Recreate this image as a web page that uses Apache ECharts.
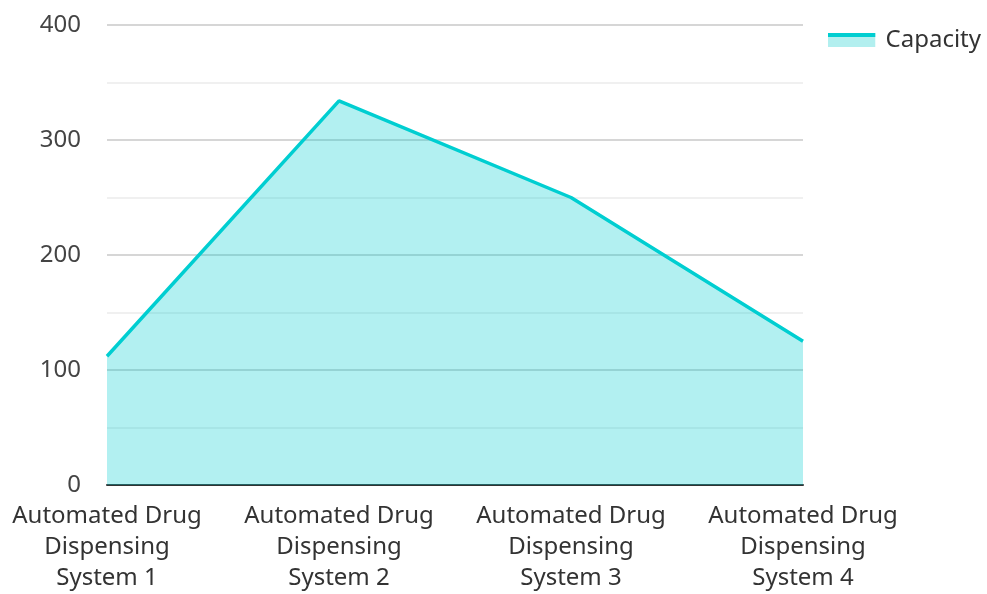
<!DOCTYPE html>
<html>
<head>
<meta charset="utf-8">
<script src="https://cdn.jsdelivr.net/npm/echarts@6/dist/echarts.min.js"></script>
<style>html,body{margin:0;padding:0;background:#fff}#c{width:987px;height:594px}</style>
</head>
<body>
<div id="c"></div>
<script>
const categories = ["Automated Drug\nDispensing\nSystem 1", "Automated Drug\nDispensing\nSystem 2", "Automated Drug\nDispensing\nSystem 3", "Automated Drug\nDispensing\nSystem 4"];
const capacity = [112, 334, 250, 125];
const seriesName = "Capacity";

const iconSvg = '<svg xmlns="http://www.w3.org/2000/svg" width="48" height="14"><rect x="0" y="0" width="48" height="14" fill="#b2efef"/><rect x="0" y="0" width="48" height="4" fill="#00ced1"/></svg>';
const iconUrl = 'image://data:image/svg+xml;charset=utf-8,' + encodeURIComponent(iconSvg);

const chart = echarts.init(document.getElementById('c'), null, {renderer: 'canvas'});
chart.setOption({
  animation: false,
  textStyle: {fontFamily: 'Noto Sans'},
  legend: {
    right: 1, top: 23,
    itemWidth: 48, itemHeight: 14, itemGap: 10,
    icon: iconUrl,
    textStyle: {fontSize: 24, color: '#333', fontFamily: 'Noto Sans', padding: [0, 0, 0, 5]},
    data: [{name: seriesName, icon: iconUrl}]
  },
  grid: {left: 107, right: 184, top: 25, bottom: 107, containLabel: false},
  xAxis: {
    type: 'category', data: categories, boundaryGap: false,
    axisLine: {show: true, lineStyle: {color: '#333', width: 2}},
    axisTick: {show: false},
    axisLabel: {fontSize: 24, color: '#333', lineHeight: 31, margin: 16, fontFamily: 'Noto Sans', interval: 0},
    splitLine: {show: false}
  },
  yAxis: {
    type: 'value', min: 0, max: 400, interval: 100,
    axisLine: {show: false}, axisTick: {show: false},
    axisLabel: {fontSize: 24, color: '#444', margin: 26, fontFamily: 'Noto Sans'},
    splitLine: {show: true, lineStyle: {color: '#c8c8c8', width: 1.5}},
    minorTick: {show: false, splitNumber: 2},
    minorSplitLine: {show: true, lineStyle: {color: '#ebebeb', width: 1.5}}
  },
  series: [{
    name: seriesName, type: 'line', data: capacity,
    symbol: 'none', showSymbol: false,
    lineStyle: {color: '#00ced1', width: 3.5},
    itemStyle: {color: '#00ced1'},
    areaStyle: {color: 'rgba(0,206,209,0.3)', opacity: 1},
    z: 1
  }]
});
</script>
</body>
</html>
